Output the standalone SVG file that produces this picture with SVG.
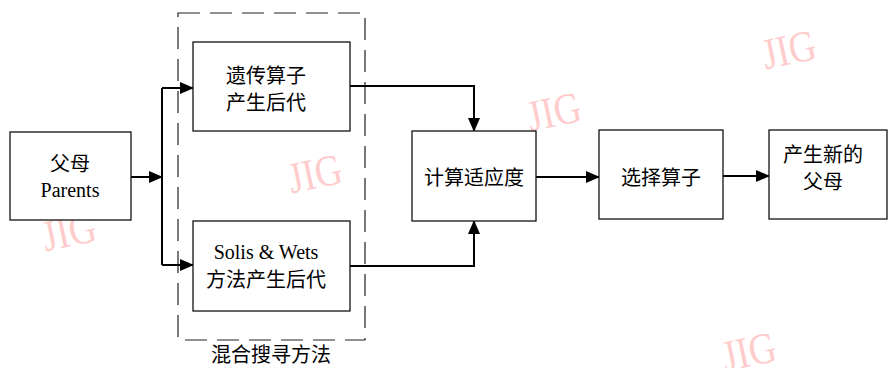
<svg xmlns="http://www.w3.org/2000/svg" width="890" height="368" viewBox="0 0 890 368">
<style>
.box{fill:#fff;stroke:#111;stroke-width:1.3}
.dash{fill:none;stroke:#222;stroke-width:1.2;stroke-dasharray:22 10}
.ln{fill:none;stroke:#000;stroke-width:2}
.t{font-family:"Liberation Serif","Noto Sans CJK SC",serif;font-size:20px;fill:#000;text-anchor:middle}
.wm{font-family:"Liberation Serif",serif;font-size:44px;fill:#ffcccc;text-anchor:middle}
</style>
<defs>
<marker id="ah" markerWidth="14" markerHeight="12" refX="13" refY="6" orient="auto" markerUnits="userSpaceOnUse">
<path d="M0,0 L14,6 L0,12 Z" fill="#000"/>
</marker>
</defs>
<rect width="890" height="368" fill="#fff"/>
<g id="watermarks">
<text class="wm" transform="translate(792,64) rotate(-12) scale(0.85,1)">JIG</text>
<text class="wm" transform="translate(557,126) rotate(-12) scale(0.85,1)">JIG</text>
<text class="wm" transform="translate(318,188) rotate(-12) scale(0.85,1)">JIG</text>
<text class="wm" transform="translate(72,246) rotate(-12) scale(0.85,1)">JIG</text>
<text class="wm" transform="translate(752,366) rotate(-12) scale(0.85,1)">JIG</text>
</g>
<g id="hybrid">
<rect class="dash" x="178" y="13" width="187" height="327"/>
<text class="t" x="271" y="362">混合搜寻方法</text>
</g>
<g id="connectors">
<path class="ln" d="M131,177 H162" marker-end="url(#ah)"/>
<path class="ln" d="M162,88 V265"/>
<path class="ln" d="M162,88 H193" marker-end="url(#ah)"/>
<path class="ln" d="M162,265 H193" marker-end="url(#ah)"/>
<path class="ln" d="M350,86 H474 V131" marker-end="url(#ah)"/>
<path class="ln" d="M350,266 H474 V221" marker-end="url(#ah)"/>
<path class="ln" d="M536,177 H599" marker-end="url(#ah)"/>
<path class="ln" d="M723,176 H769" marker-end="url(#ah)"/>
</g>
<g id="parents">
<rect class="box" x="10" y="132" width="121" height="88"/>
<text class="t" x="70" y="171">父母</text>
<text class="t" x="70" y="197">Parents</text>
</g>
<g id="genetic">
<rect class="box" x="193" y="42" width="157" height="89"/>
<text class="t" x="266" y="83">遗传算子</text>
<text class="t" x="266" y="110">产生后代</text>
</g>
<g id="solis">
<rect class="box" x="193" y="221" width="157" height="90"/>
<text class="t" x="266" y="259">Solis &amp; Wets</text>
<text class="t" x="266" y="287">方法产生后代</text>
</g>
<g id="fitness">
<rect class="box" x="412" y="131" width="124" height="90"/>
<text class="t" x="474" y="185">计算适应度</text>
</g>
<g id="select">
<rect class="box" x="599" y="130" width="124" height="89"/>
<text class="t" x="661" y="185">选择算子</text>
</g>
<g id="newparents">
<rect class="box" x="769" y="130" width="118" height="89"/>
<text class="t" x="823" y="162">产生新的</text>
<text class="t" x="823" y="189">父母</text>
</g>
</svg>
